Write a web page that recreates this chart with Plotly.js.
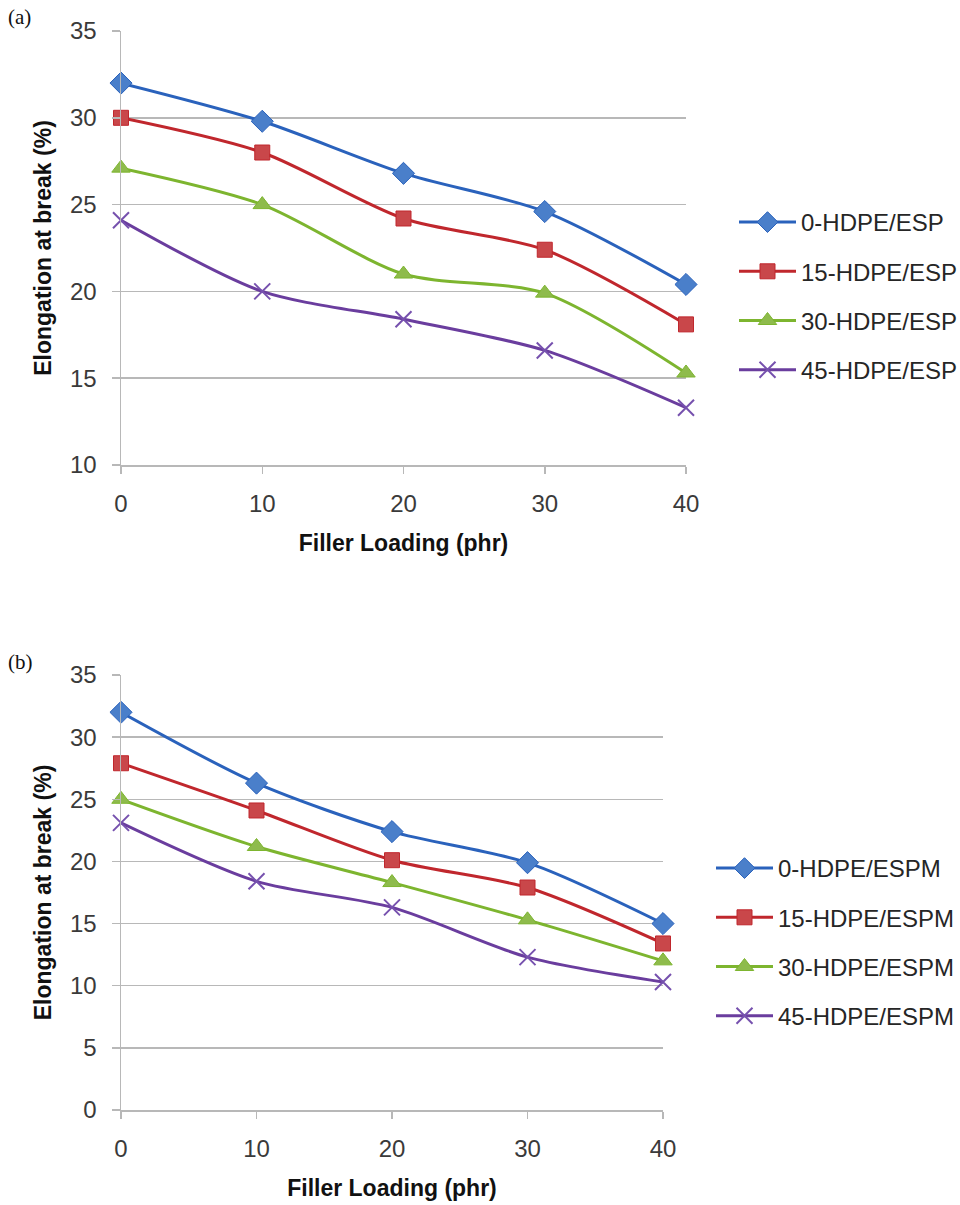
<!DOCTYPE html>
<html>
<head>
<meta charset="utf-8">
<script src="https://cdn.plot.ly/plotly-3.0.1.min.js"></script>
<style>
  html, body { margin: 0; padding: 0; background: #ffffff; }
  #chart { width: 960px; height: 1205px; }
</style>
</head>
<body>
<div id="chart"></div>
<script>
// ---- data ----
const fillerLoading = [0, 10, 20, 30, 40];
const xTickLabels = ['0', '10', '20', '30', '40'];

const espNames = ['0-HDPE/ESP', '15-HDPE/ESP', '30-HDPE/ESP', '45-HDPE/ESP'];
const esp0  = [32.0, 29.8, 26.8, 24.6, 20.4];
const esp15 = [30.0, 28.0, 24.2, 22.4, 18.1];
const esp30 = [27.1, 25.0, 21.0, 19.9, 15.3];
const esp45 = [24.1, 20.0, 18.4, 16.6, 13.3];

const espmNames = ['0-HDPE/ESPM', '15-HDPE/ESPM', '30-HDPE/ESPM', '45-HDPE/ESPM'];
const espm0  = [32.0, 26.3, 22.4, 19.9, 15.0];
const espm15 = [27.9, 24.1, 20.1, 17.9, 13.4];
const espm30 = [25.0, 21.2, 18.3, 15.3, 12.0];
const espm45 = [23.1, 18.4, 16.3, 12.3, 10.3];

const yTicksA = [10, 15, 20, 25, 30, 35];
const yTicksB = [0, 5, 10, 15, 20, 25, 30, 35];

// ---- styles ----
const styles = [
  {line: '#2A62BC', marker: '#4A7FCA', symbol: 'diamond', size: 17},
  {line: '#C0272D', marker: '#C9474A', symbol: 'square', size: 15},
  {line: '#7DB52F', marker: '#8EBB4C', symbol: 'triangle-up', size: 16},
  {line: '#6A3D9E', marker: '#7651AE', symbol: 'x-thin-open', size: 16}
];

function makeTrace(name, ys, st, xa, ya, legendId, grp) {
  const open = st.symbol.indexOf('open') >= 0;
  return {
    type: 'scatter', mode: 'lines+markers', name: name,
    x: fillerLoading, y: ys, xaxis: xa, yaxis: ya,
    legend: legendId, legendgroup: grp,
    cliponaxis: false,
    line: {color: st.line, width: 3, shape: 'spline', smoothing: 0.8},
    marker: {
      symbol: st.symbol, size: st.size, color: st.marker,
      line: {color: open ? st.marker : st.line, width: open ? 2 : 1}
    },
    hoverinfo: 'x+y+name'
  };
}

const seriesA = [esp0, esp15, esp30, esp45];
const seriesB = [espm0, espm15, espm30, espm45];
const data = [];
seriesA.forEach((ys, i) => data.push(makeTrace(espNames[i], ys, styles[i], 'x', 'y', 'legend', 'a' + i)));
seriesB.forEach((ys, i) => data.push(makeTrace(espmNames[i], ys, styles[i], 'x2', 'y2', 'legend2', 'b' + i)));

const W = 960, H = 1205;
const px = v => v / W;
const py = v => 1 - v / H;

const tickFont = {family: 'Liberation Sans, Arial, sans-serif', size: 24, color: '#3A3A3A'};
const titleFont = {family: 'Liberation Sans, Arial, sans-serif', size: 23, color: '#111111', weight: 'bold'};
const gridCol = '#B8B8B8';

function xAxis(domain, anchor) {
  return {
    domain: domain, anchor: anchor, range: [0, 40],
    tickmode: 'array', tickvals: fillerLoading, ticktext: xTickLabels,
    showgrid: false,
    showline: true, linecolor: gridCol, linewidth: 1.5,
    ticks: 'outside', ticklen: 7, tickwidth: 1.5, tickcolor: gridCol,
    ticklabelstandoff: 10,
    zeroline: false, tickfont: tickFont,
    title: {text: 'Filler Loading (phr)', font: titleFont, standoff: 18},
    fixedrange: true
  };
}
function yAxis(domain, anchor, range, tv) {
  return {
    domain: domain, anchor: anchor, range: range,
    tickmode: 'array', tickvals: tv,
    showgrid: true, gridcolor: gridCol, gridwidth: 1.5,
    showline: true, linecolor: gridCol, linewidth: 1.5,
    ticks: 'outside', ticklen: 8, tickwidth: 1.5, tickcolor: gridCol,
    ticklabelstandoff: 10,
    zeroline: false, tickfont: tickFont,
    title: {text: 'Elongation at break (%)', font: titleFont, standoff: 12},
    fixedrange: true
  };
}

const legendFont = {family: 'Liberation Sans, Arial, sans-serif', size: 24, color: '#262626'};

const layout = {
  width: W, height: H,
  margin: {l: 0, r: 0, t: 0, b: 0, autoexpand: false},
  paper_bgcolor: '#ffffff', plot_bgcolor: '#ffffff',
  showlegend: true,
  xaxis: xAxis([px(121), px(686)], 'y'),
  yaxis: yAxis([py(465), py(31)], 'x', [10, 35], yTicksA),
  xaxis2: xAxis([px(121), px(663)], 'y2'),
  yaxis2: yAxis([py(1110), py(675)], 'x2', [0, 35], yTicksB),
  legend: {
    x: px(734), y: py(200), xanchor: 'left', yanchor: 'top',
    font: legendFont, traceorder: 'grouped', tracegroupgap: 15, itemwidth: 57,
    bgcolor: 'rgba(0,0,0,0)', borderwidth: 0
  },
  legend2: {
    x: px(711), y: py(846), xanchor: 'left', yanchor: 'top',
    font: legendFont, traceorder: 'grouped', tracegroupgap: 15, itemwidth: 57,
    bgcolor: 'rgba(0,0,0,0)', borderwidth: 0
  },
  annotations: [
    {text: '(a)', xref: 'paper', yref: 'paper', x: px(6), y: py(17), xanchor: 'left', yanchor: 'middle',
     showarrow: false, font: {family: 'Liberation Serif, Times New Roman, serif', size: 21, color: '#111111'}},
    {text: '(b)', xref: 'paper', yref: 'paper', x: px(6), y: py(662), xanchor: 'left', yanchor: 'middle',
     showarrow: false, font: {family: 'Liberation Serif, Times New Roman, serif', size: 21, color: '#111111'}}
  ]
};

Plotly.newPlot('chart', data, layout, {staticPlot: true, displayModeBar: false});
</script>
</body>
</html>
